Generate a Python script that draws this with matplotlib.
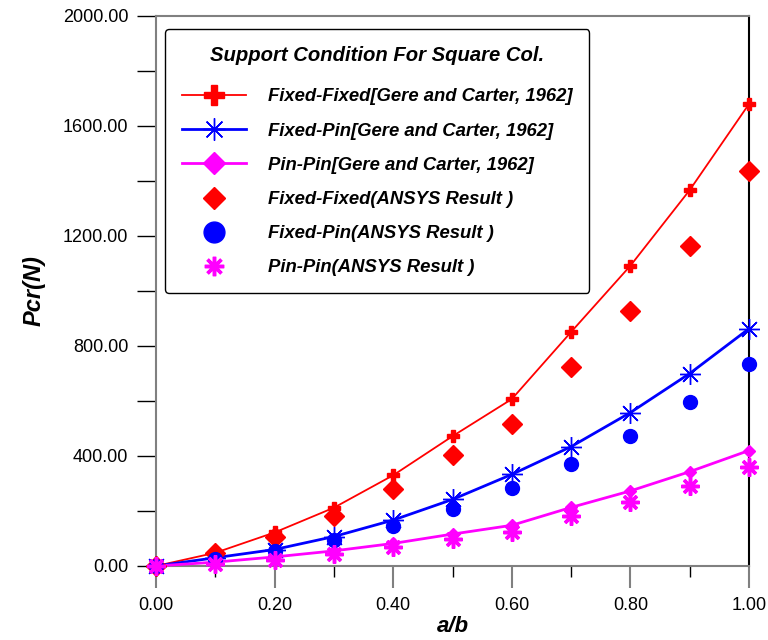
import numpy as np
import matplotlib
matplotlib.use("Agg")
import matplotlib.pyplot as plt
from matplotlib.ticker import MultipleLocator, FormatStrFormatter

plt.rcParams['font.family'] = ['Liberation Sans', 'DejaVu Sans']

# a/b ratio
ab = [0.0, 0.1, 0.2, 0.3, 0.4, 0.5, 0.6, 0.7, 0.8, 0.9, 1.0]

# Gere and Carter, 1962
ff_gere = [0, 48, 122, 212, 330, 472, 607, 851, 1092, 1367, 1680]
fp_gere = [0, 30, 60, 107, 167, 242, 333, 434, 558, 700, 863]
pp_gere = [0, 14, 33, 55, 82, 116, 148, 213, 273, 343, 420]

# ANSYS results
ff_ansys = [0, 46, 106, 181, 279, 404, 516, 724, 927, 1164, 1437]
fp_ansys = [0, 24, 55, 94, 145, 206, 282, 371, 474, 596, 735]
pp_ansys = [0, 9, 23, 45, 69, 99, 124, 181, 231, 291, 359]

labels = [
    'Fixed-Fixed[Gere and Carter, 1962]',
    'Fixed-Pin[Gere and Carter, 1962]',
    'Pin-Pin[Gere and Carter, 1962]',
    'Fixed-Fixed(ANSYS Result )',
    'Fixed-Pin(ANSYS Result )',
    'Pin-Pin(ANSYS Result )',
]

fig = plt.figure(figsize=(7.68, 6.4), dpi=100)
ax = fig.add_axes([156 / 768, 1 - 566 / 640, 593 / 768, 550 / 640])

red, blue, magenta = '#ff0000', '#0000ff', '#ff00ff'
asterisk = (8, 2, 0)

ax.plot(ab, ff_gere, color=red, lw=1.3, marker='P', ms=9, mec=red, mfc=red,
        clip_on=False, label=labels[0], zorder=3)
ax.plot(ab, fp_gere, color=blue, lw=2, marker=asterisk, ms=15, mec=blue, mew=1,
        clip_on=False, label=labels[1], zorder=3)
ax.plot(ab, pp_gere, color=magenta, lw=2, marker='D', ms=6.5, mec=magenta, mfc=magenta,
        clip_on=False, label=labels[2], zorder=3)
ax.plot(ab, ff_ansys, ls='none', marker='D', ms=10.5, color=red,
        clip_on=False, label=labels[3], zorder=4)
ax.plot(ab, fp_ansys, ls='none', marker='o', ms=10, color=blue,
        clip_on=False, label=labels[4], zorder=4)
ax.plot(ab, pp_ansys, ls='none', marker=asterisk, ms=13, mew=2.5, color=magenta,
        clip_on=False, label=labels[5], zorder=5)

ax.set_xlim(0, 1)
ax.set_ylim(0, 2000)
ax.xaxis.set_major_locator(MultipleLocator(0.2))
ax.xaxis.set_minor_locator(MultipleLocator(0.1))
ax.yaxis.set_major_locator(MultipleLocator(400))
ax.yaxis.set_minor_locator(MultipleLocator(200))
ax.xaxis.set_major_formatter(FormatStrFormatter('%.2f'))
ax.yaxis.set_major_formatter(FormatStrFormatter('%.2f'))

ax.tick_params(axis='x', which='major', direction='out', length=16, width=1.5,
               color='#808080', labelsize=13, pad=6)
ax.tick_params(axis='x', which='minor', direction='out', length=8, width=1, color='black')
ax.tick_params(axis='y', which='both', direction='out', length=14, width=1, color='black',
               labelsize=13, pad=6)

for side in ['top', 'left', 'bottom']:
    ax.spines[side].set_color('#808080')
    ax.spines[side].set_linewidth(1.5)
ax.spines['right'].set_color('black')
ax.spines['right'].set_linewidth(1.5)

ax.set_xlabel('a/b', fontsize=16, fontweight='bold', fontstyle='italic', labelpad=2)
ax.set_ylabel('Pcr(N)', fontsize=17, fontweight='bold', fontstyle='italic', labelpad=12)

leg = ax.legend(loc='upper left', bbox_to_anchor=(0.015, 0.976), borderaxespad=0,
                title='Support Condition For Square Col.', fancybox=True,
                edgecolor='black', framealpha=1, handlelength=3.5, handletextpad=1.2,
                labelspacing=0.93, borderpad=0.9,
                prop={'size': 13.3, 'weight': 'bold', 'style': 'italic'},
                title_fontproperties={'size': 14.6, 'weight': 'bold', 'style': 'italic'})
leg.get_frame().set_linewidth(1)
leg._legend_box.sep = 17

# legend symbols are drawn larger than the plotted ones
legend_ms = [15, 16, 11, 11, 15, 14]
for handle, ms in zip(leg.legend_handles, legend_ms):
    handle.set_markersize(ms)

fig.savefig('out.png', dpi=100)
